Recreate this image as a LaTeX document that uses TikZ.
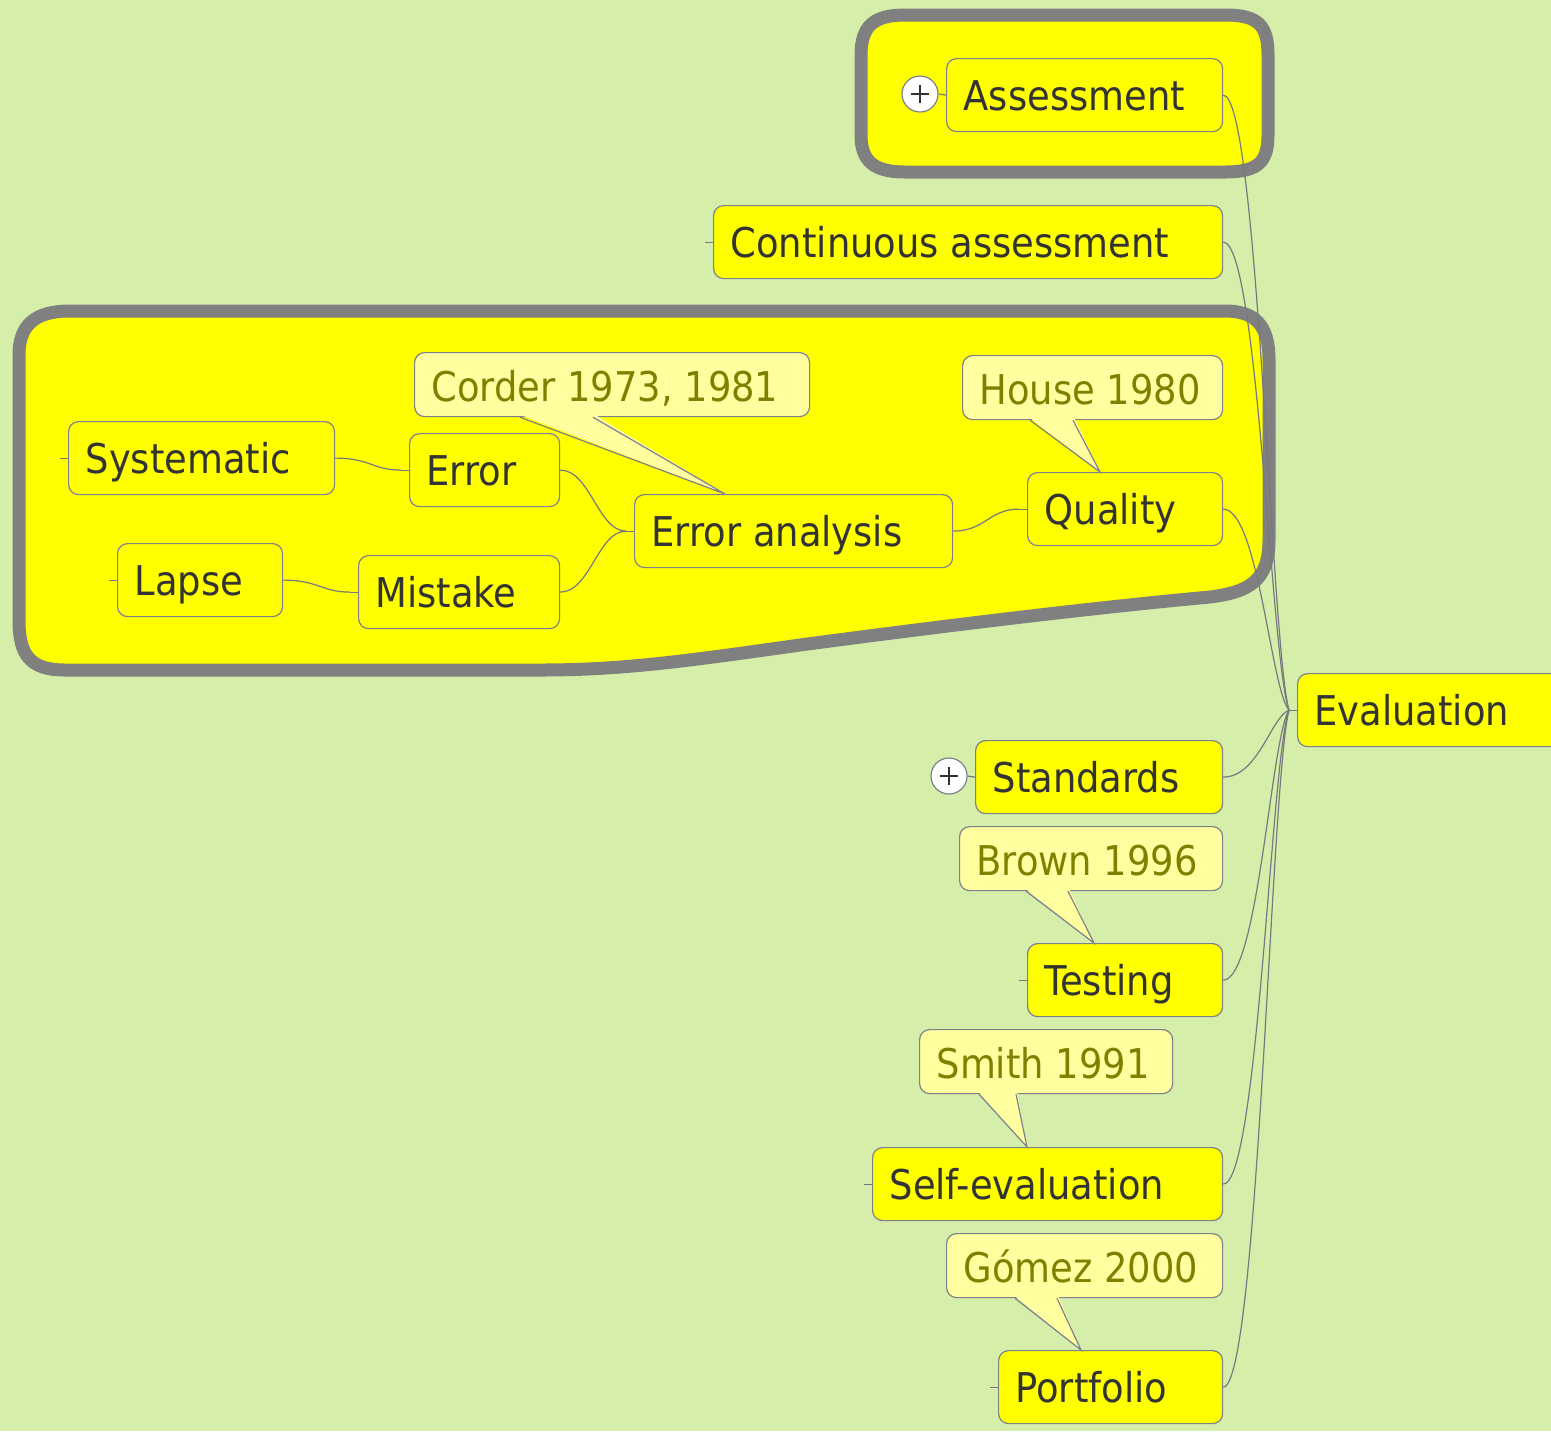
\documentclass[tikz,border=0pt]{standalone}
\usepackage{fontspec}
\setmainfont{DejaVu Sans Condensed}
\usetikzlibrary{calc}

\definecolor{bg}{RGB}{213,238,170}
\definecolor{topicfill}{RGB}{255,255,0}
\definecolor{notefill}{RGB}{255,255,160}
\definecolor{ink}{RGB}{51,51,51}
\definecolor{noteink}{RGB}{128,128,0}
\definecolor{nodeline}{RGB}{128,128,140}
\definecolor{linegray}{RGB}{120,120,128}
\definecolor{grpgray}{RGB}{128,128,128}

% left-aligned label of fixed width inside a topic box
\newcommand\tl[2]{\makebox[#1][l]{#2}}

\tikzset{
  topic/.style={draw=nodeline, line width=0.6pt, fill=topicfill, rounded corners=5pt,
    anchor=north west, inner xsep=8.5pt, inner ysep=0pt, text height=26pt, text depth=10.5pt,
    text=ink, font=\fontsize{20.5}{24}\selectfont},
  note/.style={topic, fill=notefill, text=noteink, text height=24.5pt, text depth=7.5pt},
  conn/.style={draw=linegray, line width=0.6pt},
  grp/.style={draw=grpgray, line width=6.5pt, fill=topicfill, line join=round},
  plus/.style={circle, draw=nodeline, fill=white, minimum size=18pt, inner sep=0pt, line width=0.6pt},
  pointerline/.style={draw=nodeline, line width=0.6pt}
}

\begin{document}
\begin{tikzpicture}[x=0.5pt,y=-0.5pt]
\useasboundingbox (0,0) rectangle (1551,1431);
\fill[bg] (0,0) rectangle (1551,1431);

% boundary shapes
\draw[grp] (861,55) .. controls (861,25) and (875,15) .. (905,15) -- (1225,15)
  .. controls (1258,15) and (1268,25) .. (1268,55) -- (1268,135)
  .. controls (1268,162) and (1258,172) .. (1225,172) -- (905,172)
  .. controls (875,172) and (861,162) .. (861,135) -- cycle;
\draw[grp] (19,355) .. controls (19,325) and (35,311) .. (70,311) -- (1225,311)
  .. controls (1255,311) and (1269,325) .. (1269,360) -- (1269,540)
  .. controls (1269,580) and (1250,592) .. (1210,597)
  .. controls (1100,607) and (950,625) .. (800,645)
  .. controls (680,662) and (620,670) .. (540,670) -- (65,670)
  .. controls (30,670) and (19,655) .. (19,620) -- cycle;

% topics
\node[topic] (eval) at (1297,673) {\tl{118pt}{Evaluation}};
\node[topic] (assess) at (946,58) {\tl{121pt}{Assessment}};
\node[topic] (cont) at (713,205) {\tl{237.5pt}{Continuous assessment}};
\node[topic] (quality) at (1027,472) {\tl{80.5pt}{Quality}};
\node[topic] (ea) at (634,494) {\tl{142pt}{Error analysis}};
\node[topic] (error) at (409,433) {\tl{58pt}{Error}};
\node[topic] (mistake) at (358,555) {\tl{83.5pt}{Mistake}};
\node[topic] (syst) at (68,421) {\tl{116pt}{Systematic}};
\node[topic] (lapse) at (117,543) {\tl{65.5pt}{Lapse}};
\node[topic] (stand) at (975,740) {\tl{106.5pt}{Standards}};
\node[topic] (testing) at (1027,943) {\tl{80.5pt}{Testing}};
\node[topic] (selfev) at (872,1147) {\tl{158pt}{Self-evaluation}};
\node[topic] (portf) at (998,1350) {\tl{95pt}{Portfolio}};

% junctions and stubs
\coordinate (ej) at ($(eval.west)+(-8,0)$);
\coordinate (qj) at ($(quality.west)+(-8,0)$);
\coordinate (eaj) at ($(ea.west)+(-8,0)$);
\coordinate (errj) at ($(error.west)+(-8,0)$);
\coordinate (mj) at ($(mistake.west)+(-8,0)$);
\coordinate (contj) at ($(cont.west)+(-8,0)$);
\coordinate (systj) at ($(syst.west)+(-8,0)$);
\coordinate (lapsej) at ($(lapse.west)+(-8,0)$);
\coordinate (testj) at ($(testing.west)+(-8,0)$);
\coordinate (selfj) at ($(selfev.west)+(-8,0)$);
\coordinate (portj) at ($(portf.west)+(-8,0)$);

\foreach \a/\b in {ej/eval, qj/quality, eaj/ea, errj/error, mj/mistake, contj/cont,
  systj/syst, lapsej/lapse, testj/testing, selfj/selfev, portj/portf}
  \draw[conn] (\a) -- (\b.west);

% branches into Evaluation
\draw[conn] (assess.east) .. controls +(35,0) and +(-18,-62) .. (ej);
\draw[conn] (cont.east) .. controls +(35,0) and +(-18,-47) .. (ej);
\draw[conn] (quality.east) .. controls +(35,0) and +(-18,-20) .. (ej);
\draw[conn] (stand.east) .. controls +(35,0) and +(-18,7) .. (ej);
\draw[conn] (testing.east) .. controls +(35,0) and +(-18,27) .. (ej);
\draw[conn] (selfev.east) .. controls +(35,0) and +(-18,47) .. (ej);
\draw[conn] (portf.east) .. controls +(35,0) and +(-18,68) .. (ej);

% branches inside the error-analysis group
\draw[conn] (ea.east) .. controls +(32,0) and +(-30,0) .. (qj);
\draw[conn] (error.east) .. controls +(30,0) and +(-28,0) .. (eaj);
\draw[conn] (mistake.east) .. controls +(30,0) and +(-28,0) .. (eaj);
\draw[conn] (syst.east) .. controls +(35,0) and +(-28,0) .. (errj);
\draw[conn] (lapse.east) .. controls +(35,0) and +(-28,0) .. (mj);

% collapsed-branch markers
\node[plus] (aplus) at (920,94) {};
\node[plus] (splus) at (949,776) {};
\foreach \p in {aplus, splus}{
  \draw[line width=0.8pt, ink] ($(\p)+(-9,0)$) -- ($(\p)+(9,0)$);
  \draw[line width=0.8pt, ink] ($(\p)+(0,-9)$) -- ($(\p)+(0,9)$);
}
\draw[conn] (aplus.east) -- (assess.west);
\draw[conn] (splus.east) -- (stand.west);

% callouts
\node[note] (corder) at (414,352) {\tl{180.5pt}{Corder 1973, 1981}};
\node[note] (house) at (962,355) {\tl{113pt}{House 1980}};
\node[note] (brown) at (959,826) {\tl{114.5pt}{Brown 1996}};
\node[note] (smith) at (919,1029) {\tl{109.5pt}{Smith 1991}};
\node[note] (gomez) at (946,1233) {\tl{121pt}{Gómez 2000}};

\foreach \n/\t/\u/\v/\w in {corder/ea/106/179/91, house/quality/68/111/73,
  brown/testing/67/109/67, smith/selfev/60/97/155, gomez/portf/69/111/83}{
  \fill[notefill] ($(\n.south west)+(\u-1,-3)$) -- ($(\t.north west)+(\w,0)$)
    -- ($(\n.south west)+(\v+1,-3)$) -- cycle;
  \draw[pointerline] ($(\n.south west)+(\u,0)$) -- ($(\t.north west)+(\w,0)$)
    -- ($(\n.south west)+(\v,0)$);
}
\end{tikzpicture}
\end{document}
